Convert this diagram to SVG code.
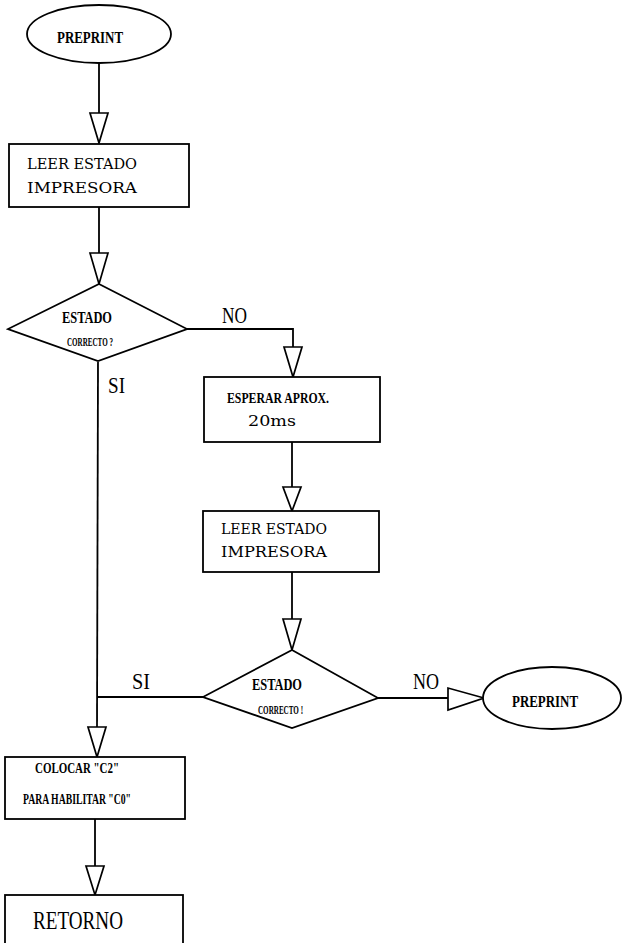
<svg xmlns="http://www.w3.org/2000/svg" width="622" height="943" viewBox="0 0 622 943">
<style>
.shape{fill:#fff;stroke:#000;stroke-width:1.8}
.line{fill:none;stroke:#000;stroke-width:1.8}
.arrow{fill:#fff;stroke:#000;stroke-width:1.7;stroke-linejoin:miter}
.t{font-family:"Liberation Serif",serif;fill:#000}
.cb{font-weight:bold}
.wide{font-family:"DejaVu Serif","Liberation Serif",serif;fill:#000}
</style>
<rect width="622" height="943" fill="#fff"/>
<g id="connectors">
<path class="line" d="M99,63 V113"/>
<polygon class="arrow" points="90,113 108,113 99,143"/>
<path class="line" d="M99,207 V253"/>
<polygon class="arrow" points="90,253 108,253 99,284"/>
<path class="line" d="M187,329 H293 V347"/>
<polygon class="arrow" points="284,347 302,347 293,377"/>
<path class="line" d="M292,442 V487"/>
<polygon class="arrow" points="283,487 301,487 292,511"/>
<path class="line" d="M292,572 V619"/>
<polygon class="arrow" points="283,619 301,619 292,650"/>
<path class="line" d="M98,362 L97,727"/>
<path class="line" d="M203,697 H97"/>
<polygon class="arrow" points="88,727 106,727 97,757"/>
<path class="line" d="M95,819 V866"/>
<polygon class="arrow" points="86,866 104,866 95,895"/>
<path class="line" d="M378,698 H448"/>
<polygon class="arrow" points="448,688 448,710 484,698"/>
<text class="t" x="222" y="323" font-size="24" textLength="25" lengthAdjust="spacingAndGlyphs">NO</text>
<text class="t" x="108" y="393" font-size="24" textLength="17" lengthAdjust="spacingAndGlyphs">SI</text>
<text class="t" x="132" y="689" font-size="24" textLength="18" lengthAdjust="spacingAndGlyphs">SI</text>
<text class="t" x="413" y="689" font-size="24" textLength="26" lengthAdjust="spacingAndGlyphs">NO</text>
</g>
<g id="start">
<ellipse class="shape" cx="99" cy="34" rx="72" ry="29"/>
<text class="t cb" x="57" y="43" font-size="17" textLength="66" lengthAdjust="spacingAndGlyphs">PREPRINT</text>
</g>
<g id="leer1">
<rect class="shape" x="9" y="144" width="180" height="63"/>
<text class="wide" x="27" y="169" font-size="15" textLength="110" lengthAdjust="spacingAndGlyphs">LEER ESTADO</text>
<text class="wide" x="27" y="193" font-size="15" textLength="110" lengthAdjust="spacingAndGlyphs">IMPRESORA</text>
</g>
<g id="decision1">
<polygon class="shape" points="99,284 187,329 98,361 8,329"/>
<text class="t cb" x="62" y="323" font-size="17" textLength="50" lengthAdjust="spacingAndGlyphs">ESTADO</text>
<text class="t cb" x="67" y="346" font-size="13" textLength="46" lengthAdjust="spacingAndGlyphs">CORRECTO ?</text>
</g>
<g id="esperar">
<rect class="shape" x="204" y="377" width="176" height="65"/>
<text class="t cb" x="227" y="403" font-size="14" textLength="102" lengthAdjust="spacingAndGlyphs">ESPERAR APROX.</text>
<text class="wide" x="248" y="426" font-size="15" textLength="48" lengthAdjust="spacingAndGlyphs">20ms</text>
</g>
<g id="leer2">
<rect class="shape" x="203" y="511" width="176" height="61"/>
<text class="wide" x="221" y="534" font-size="15" textLength="106" lengthAdjust="spacingAndGlyphs">LEER ESTADO</text>
<text class="wide" x="221" y="557" font-size="15" textLength="106" lengthAdjust="spacingAndGlyphs">IMPRESORA</text>
</g>
<g id="decision2">
<polygon class="shape" points="292,650 378,698 292,728 203,697"/>
<text class="t cb" x="252" y="690" font-size="17" textLength="50" lengthAdjust="spacingAndGlyphs">ESTADO</text>
<text class="t cb" x="258" y="714" font-size="13" textLength="45" lengthAdjust="spacingAndGlyphs">CORRECTO !</text>
</g>
<g id="preprint2">
<ellipse class="shape" cx="552" cy="698" rx="69" ry="31"/>
<text class="t cb" x="512" y="707" font-size="17" textLength="66" lengthAdjust="spacingAndGlyphs">PREPRINT</text>
</g>
<g id="colocar">
<rect class="shape" x="5" y="757" width="180" height="62"/>
<text class="t cb" x="35" y="773" font-size="14" textLength="84" lengthAdjust="spacingAndGlyphs">COLOCAR "C2"</text>
<text class="t cb" x="23" y="804" font-size="14" textLength="108" lengthAdjust="spacingAndGlyphs">PARA HABILITAR "C0"</text>
</g>
<g id="retorno">
<rect class="shape" x="5" y="895" width="178" height="70"/>
<text class="t" x="33" y="929" font-size="26" textLength="90" lengthAdjust="spacingAndGlyphs">RETORNO</text>
</g>
</svg>
